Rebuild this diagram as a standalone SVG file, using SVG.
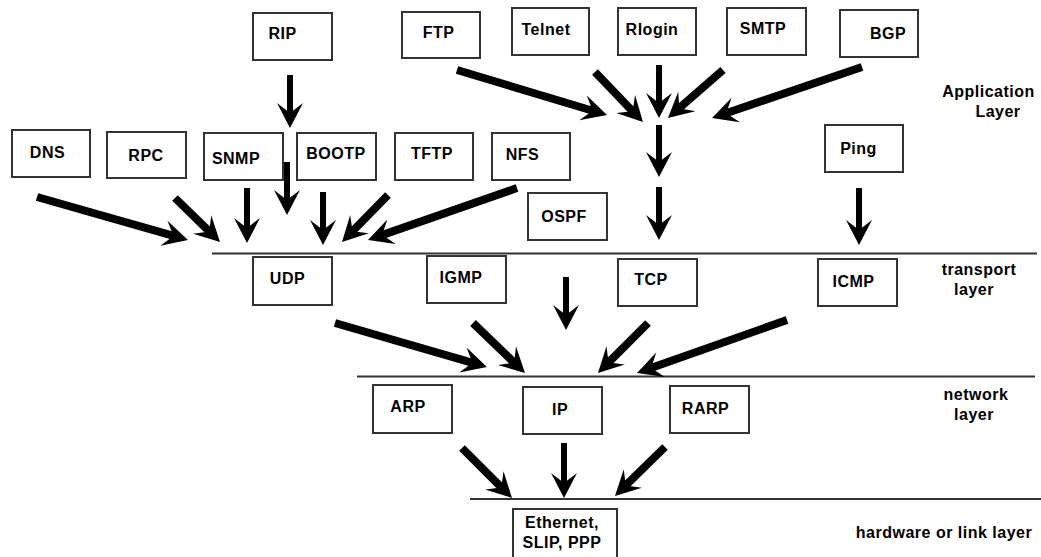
<svg xmlns="http://www.w3.org/2000/svg" width="1041" height="557" viewBox="0 0 1041 557">
<style>
  .box rect { fill: #fff; stroke: #333; stroke-width: 2; }
  text { font-family: "Liberation Sans", Arial, sans-serif; font-weight: bold; font-size: 16px; letter-spacing: 0.5px; fill: #000; text-anchor: middle; }
  .layer { stroke: #333; stroke-width: 2; }
  .arrow { stroke: #000; stroke-width: 6; fill: none; marker-end: url(#head); }
  .arrow.d { stroke-width: 8; }
</style>
<defs>
  <marker id="head" markerUnits="userSpaceOnUse" markerWidth="28" markerHeight="28" refX="11" refY="13" orient="auto" overflow="visible">
    <path d="M0,0 L25,13 L0,26 L10,13 Z" fill="#000"/>
  </marker>
</defs>

<g id="layer-lines">
  <line class="layer" x1="212" y1="253.5" x2="1037" y2="253.5"/>
  <line class="layer" x1="357" y1="376.5" x2="1035" y2="376.5"/>
  <line class="layer" x1="470" y1="499" x2="1041" y2="499"/>
</g>

<g id="layer-labels">
  <text x="988.5" y="97">Application</text>
  <text x="998" y="117">Layer</text>
  <text x="979" y="275">transport</text>
  <text x="974" y="295">layer</text>
  <text x="976" y="400">network</text>
  <text x="974" y="420">layer</text>
  <text x="944" y="538">hardware or link layer</text>
</g>

<g id="node-rip" class="box"><rect x="253" y="13" width="79" height="47"/><text x="282.5" y="38.5">RIP</text></g>
<g id="node-ftp" class="box"><rect x="402" y="12" width="78" height="46"/><text x="438.5" y="37.5">FTP</text></g>
<g id="node-telnet" class="box"><rect x="512" y="8" width="77" height="47"/><text x="546" y="35">Telnet</text></g>
<g id="node-rlogin" class="box"><rect x="618" y="8" width="78" height="47"/><text x="652" y="35">Rlogin</text></g>
<g id="node-smtp" class="box"><rect x="727" y="8" width="79" height="47"/><text x="763" y="33.5">SMTP</text></g>
<g id="node-bgp" class="box"><rect x="840" y="10" width="78" height="47"/><text x="888" y="38.5">BGP</text></g>
<g id="node-dns" class="box"><rect x="12" y="130" width="78" height="47"/><text x="47.5" y="157.5">DNS</text></g>
<g id="node-rpc" class="box"><rect x="107" y="132" width="79" height="46"/><text x="146" y="160.5">RPC</text></g>
<g id="node-snmp" class="box"><rect x="204" y="133" width="79" height="47"/><text x="236" y="163.5">SNMP</text></g>
<g id="node-bootp" class="box"><rect x="297" y="133" width="79" height="47"/><text x="336" y="158.5">BOOTP</text></g>
<g id="node-tftp" class="box"><rect x="395" y="133" width="78" height="47"/><text x="432" y="158.5">TFTP</text></g>
<g id="node-nfs" class="box"><rect x="492" y="133" width="78" height="47"/><text x="522.5" y="160">NFS</text></g>
<g id="node-ospf" class="box"><rect x="528" y="193" width="79" height="47"/><text x="564" y="222">OSPF</text></g>
<g id="node-ping" class="box"><rect x="825" y="125" width="78" height="47"/><text x="858.5" y="153.5">Ping</text></g>
<g id="node-udp" class="box"><rect x="253" y="257" width="79" height="48"/><text x="287.5" y="283.5">UDP</text></g>
<g id="node-igmp" class="box"><rect x="427" y="256" width="79" height="47"/><text x="461" y="282.5">IGMP</text></g>
<g id="node-tcp" class="box"><rect x="618" y="259" width="79" height="47"/><text x="651" y="285">TCP</text></g>
<g id="node-icmp" class="box"><rect x="818" y="259" width="79" height="47"/><text x="853.5" y="287">ICMP</text></g>
<g id="node-arp" class="box"><rect x="373" y="385" width="79" height="48"/><text x="408" y="411.5">ARP</text></g>
<g id="node-ip" class="box"><rect x="523" y="387" width="79" height="47"/><text x="560" y="415">IP</text></g>
<g id="node-rarp" class="box"><rect x="670" y="386" width="79" height="47"/><text x="705.5" y="413.5">RARP</text></g>
<g id="node-ethernet" class="box"><rect x="513" y="509" width="104" height="52"/><text x="562" y="528">Ethernet,</text><text x="562" y="548">SLIP, PPP</text></g>

<g id="connectors">
  <line class="arrow" x1="290" y1="75" x2="290" y2="114"/>
  <line class="arrow" x1="287" y1="162" x2="287" y2="201"/>
  <line class="arrow d" x1="37" y1="197" x2="174.5" y2="236.2"/>
  <line class="arrow d" x1="175" y1="198" x2="210" y2="232.2"/>
  <line class="arrow" x1="247" y1="188" x2="247" y2="229"/>
  <line class="arrow" x1="323" y1="192" x2="323" y2="231"/>
  <line class="arrow d" x1="388" y1="195" x2="351.8" y2="232"/>
  <line class="arrow d" x1="517" y1="188" x2="381.2" y2="235.4"/>
  <line class="arrow d" x1="457" y1="70" x2="593.6" y2="111"/>
  <line class="arrow d" x1="595" y1="72" x2="633.3" y2="111.9"/>
  <line class="arrow" x1="659" y1="65" x2="659" y2="104"/>
  <line class="arrow d" x1="723" y1="70" x2="678.5" y2="108.8"/>
  <line class="arrow d" x1="862" y1="67" x2="725.3" y2="113.5"/>
  <line class="arrow" x1="659" y1="125" x2="659" y2="163"/>
  <line class="arrow" x1="659" y1="187" x2="659" y2="226"/>
  <line class="arrow" x1="859" y1="188" x2="859" y2="231"/>
  <line class="arrow d" x1="335" y1="323" x2="473.5" y2="363.1"/>
  <line class="arrow d" x1="473" y1="323" x2="514.9" y2="363.3"/>
  <line class="arrow" x1="566" y1="277" x2="566" y2="316"/>
  <line class="arrow d" x1="648" y1="323" x2="607.9" y2="363.1"/>
  <line class="arrow d" x1="787" y1="320" x2="650.2" y2="368.3"/>
  <line class="arrow d" x1="462" y1="448" x2="502.1" y2="488.1"/>
  <line class="arrow" x1="564" y1="443" x2="564" y2="484"/>
  <line class="arrow d" x1="665" y1="447" x2="625" y2="486.2"/>
</g>
</svg>
